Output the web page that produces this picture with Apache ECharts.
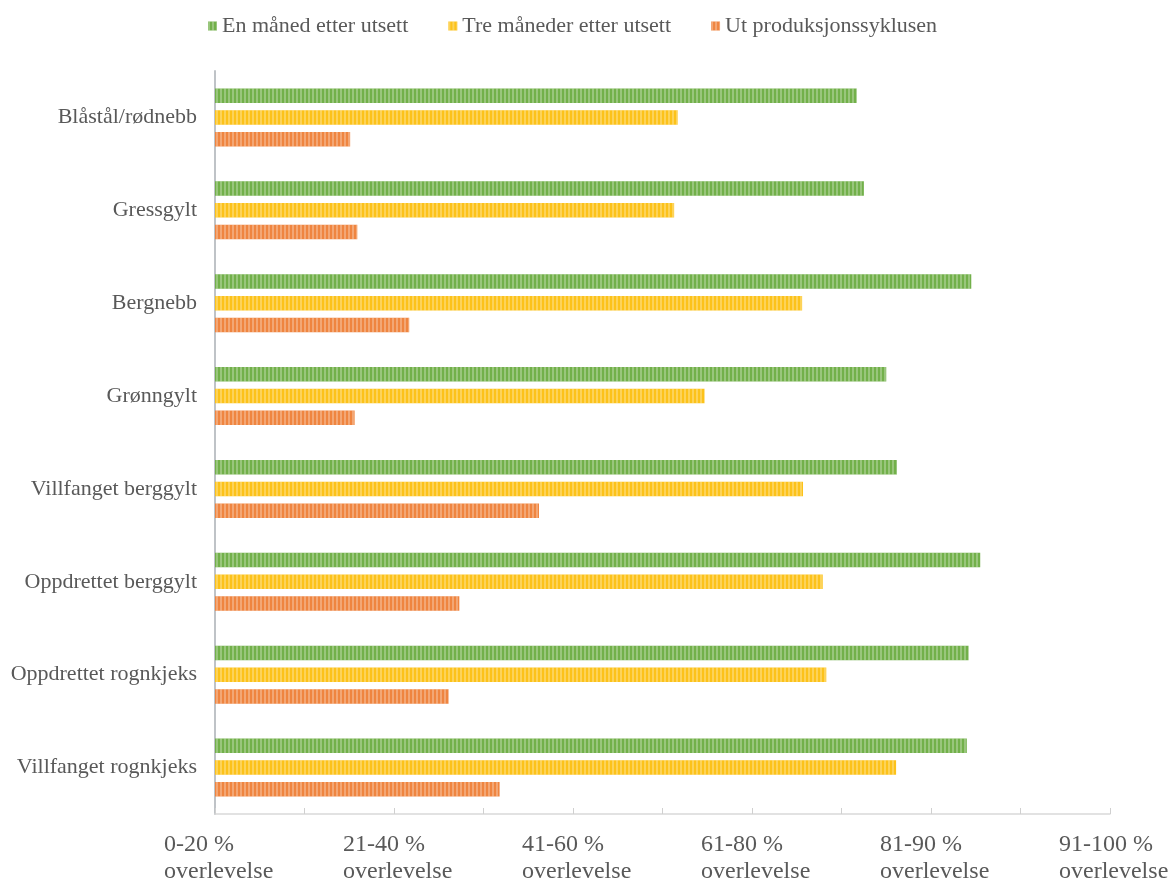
<!DOCTYPE html>
<html>
<head>
<meta charset="utf-8">
<script src="https://cdn.jsdelivr.net/npm/echarts@6/dist/echarts.min.js"></script>
<style>
html,body{margin:0;padding:0;background:#fff;}
#main{width:1168px;height:884px;}
</style>
</head>
<body>
<div id="main"></div>
<script>
const categories = ['Blåstål/rødnebb','Gressgylt','Bergnebb','Grønngylt','Villfanget berggylt','Oppdrettet berggylt','Oppdrettet rognkjeks','Villfanget rognkjeks'];
const seriesNames = ['En måned etter utsett','Tre måneder etter utsett','Ut produksjonssyklusen'];
const enManed = [7.17, 7.25, 8.45, 7.50, 7.62, 8.55, 8.42, 8.40];
const treManeder = [5.17, 5.13, 6.56, 5.47, 6.57, 6.79, 6.83, 7.61];
const utSyklus = [1.51, 1.59, 2.17, 1.56, 3.62, 2.73, 2.61, 3.18];
const tickLabels = ['0-20 %','21-40 %','41-60 %','61-80 %','81-90 %','91-100 %'];
const tickSub = 'overlevelse';

const colors = ['#72b04a', '#fcc21a', '#ef8540'];
const font = '"Liberation Serif", "Times New Roman", serif';
const txt = '#595959';

function decal(){
  return {symbol:'rect', symbolSize:1, dashArrayX:[[2,2]], dashArrayY:[30,0], rotation:0, color:'rgba(255,255,255,0.28)'};
}

const chart = echarts.init(document.getElementById('main'), null, {renderer:'canvas'});
chart.setOption({
  animation:false,
  backgroundColor:'#fff',
  aria:{enabled:true, decal:{show:true}},
  color: colors,
  legend:{
    top:10, left:203,
    itemWidth:9, itemHeight:9, itemGap:40,
    icon:'rect',
    textStyle:{fontFamily:font, fontSize:22, color:txt},
    data: seriesNames
  },
  grid:{left:215, right:58, top:71, bottom:70, containLabel:false, outerBoundsMode:'none'},
  xAxis:{
    type:'value', min:0, max:10, interval:1,
    axisLine:{show:true, lineStyle:{color:'#d9d9d9', width:1.5}},
    axisTick:{show:true, inside:true, length:6, lineStyle:{color:'#d0d0d0'}},
    splitLine:{show:false},
    axisLabel:{
      margin:17,
      padding:[0,0,0,10],
      hideOverlap:false,
      formatter:function(v){
        if (v % 2 !== 0) return '';
        const l = tickLabels[v/2];
        return '{a|' + l + '}\n{a|' + tickSub + '}';
      },
      rich:{a:{fontFamily:font, fontSize:24, color:txt, width:112, align:'left', lineHeight:27}}
    }
  },
  yAxis:{
    type:'category', data:categories, inverse:true,
    axisLine:{show:true, lineStyle:{color:'#bfc3c7', width:2}},
    axisTick:{show:false},
    axisLabel:{margin:18, fontFamily:font, fontSize:22, color:txt}
  },
  series:[
    {name:seriesNames[0], type:'bar', data:enManed, barWidth:14.5, barGap:'50%', itemStyle:{color:colors[0], decal:decal()}},
    {name:seriesNames[1], type:'bar', data:treManeder, barWidth:14.5, barGap:'50%', itemStyle:{color:colors[1], decal:decal()}},
    {name:seriesNames[2], type:'bar', data:utSyklus, barWidth:14.5, barGap:'50%', itemStyle:{color:colors[2], decal:decal()}}
  ]
});
</script>
</body>
</html>
